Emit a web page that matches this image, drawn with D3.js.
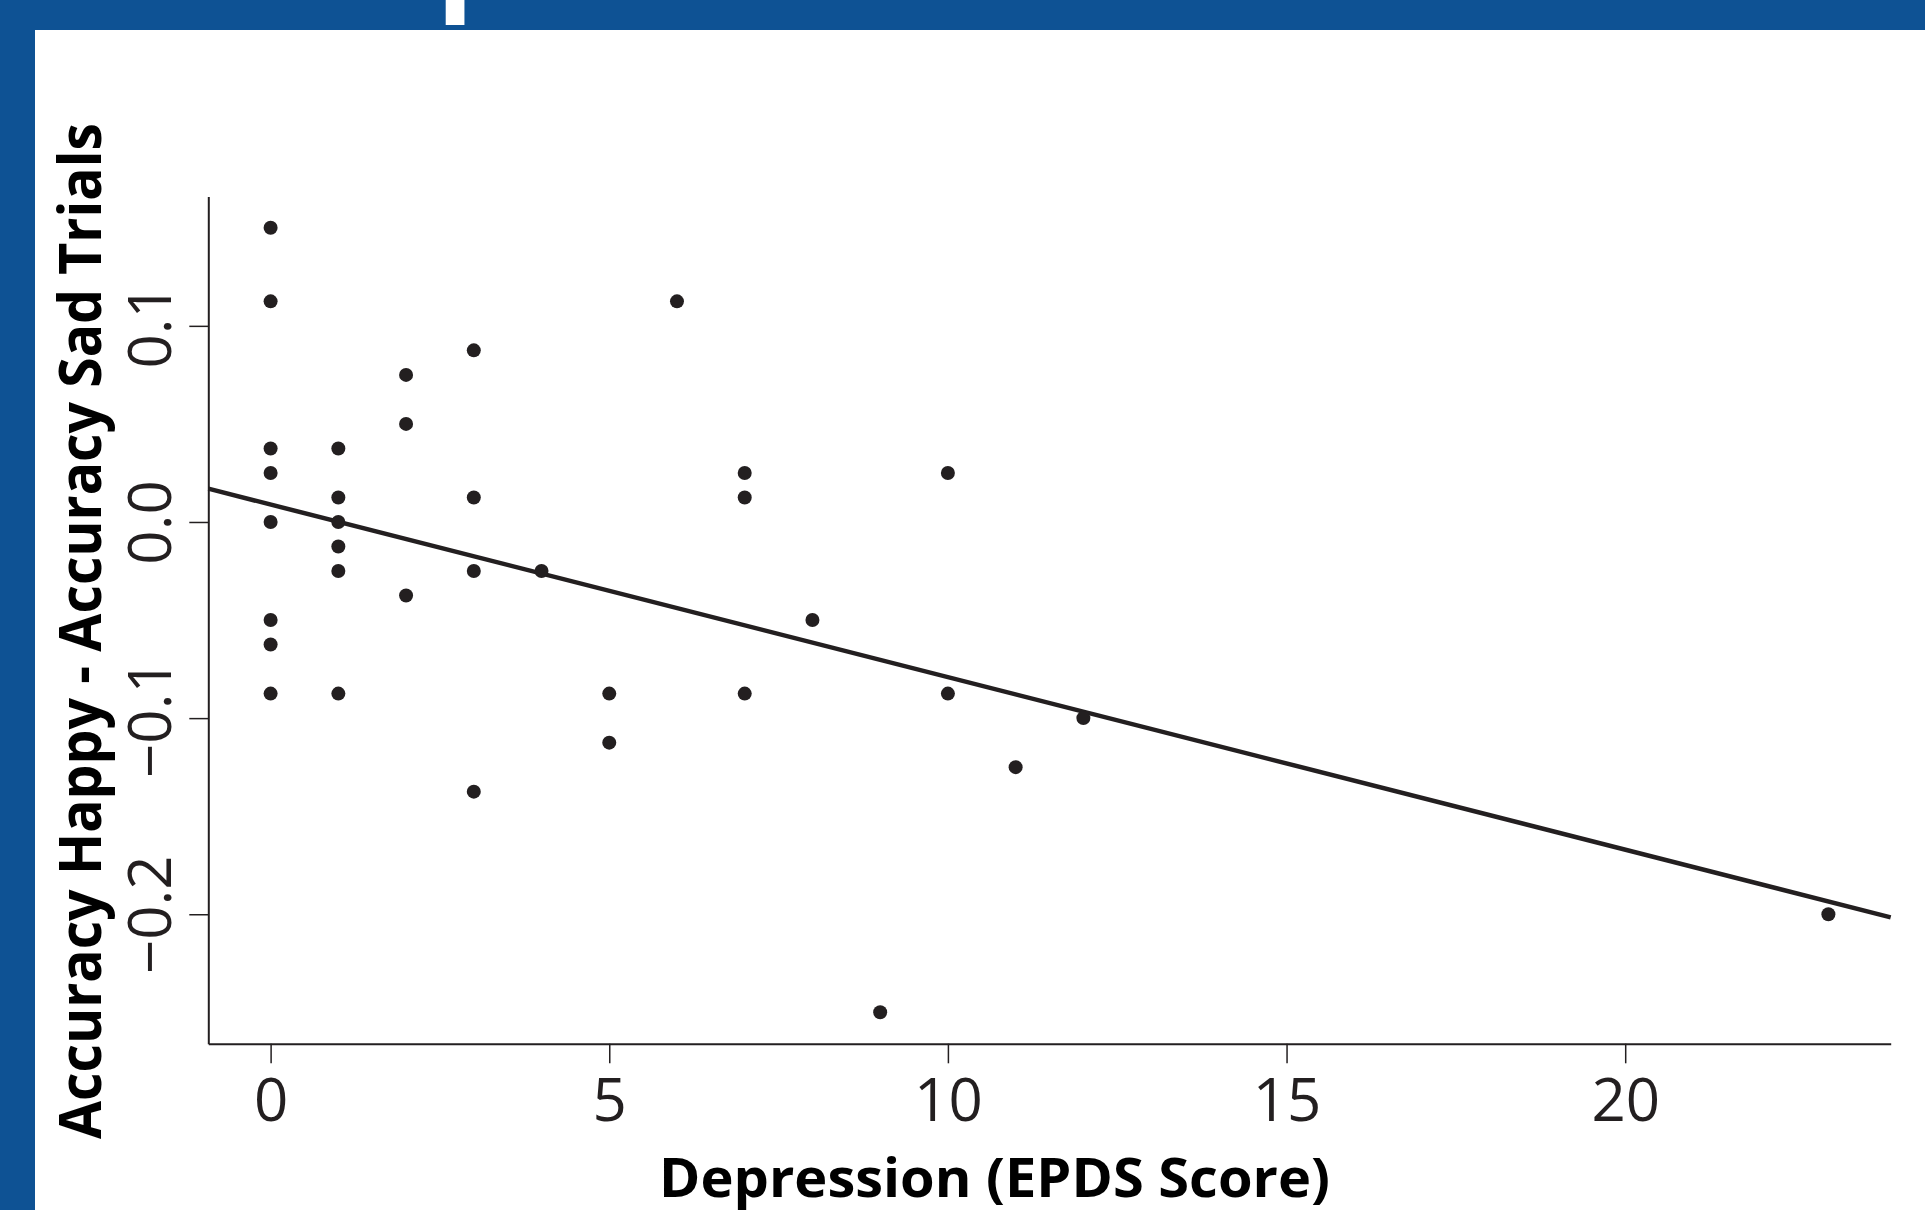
<!DOCTYPE html>
<html>
<head>
<meta charset="utf-8">
<script src="https://cdn.jsdelivr.net/npm/d3@7"></script>
<style>
  html, body { margin: 0; padding: 0; background: #fff; }
  svg { display: block; font-family: "Open Sans", "Liberation Sans", sans-serif; }
</style>
</head>
<body>
<script>
// EPDS score of each participant and accuracy difference (happy - sad)
const epds = [0, 0, 0, 0, 0, 0, 0, 0,
              1, 1, 1, 1, 1, 1,
              2, 2, 2,
              3, 3, 3, 3,
              4, 5, 5, 6, 7, 7, 7, 8, 9, 10, 10, 11, 12, 23];
const accDiff = [0.15, 0.1125, 0.0375, 0.025, 0, -0.05, -0.0625, -0.0875,
                 0.0375, 0.0125, 0, -0.0125, -0.025, -0.0875,
                 0.075, 0.05, -0.0375,
                 0.0875, 0.0125, -0.025, -0.1375,
                 -0.025, -0.0875, -0.1125, 0.1125, 0.025, 0.0125, -0.0875, -0.05, -0.25, 0.025, -0.0875, -0.125, -0.1, -0.2];
// fitted line as drawn in the figure
const fitIntercept = 0.0089;
const fitSlope = -0.0088;
const xTicks = [0, 5, 10, 15, 20];
const yTicks = [-0.2, -0.1, 0.0, 0.1];

const width = 1925, height = 1210;
const ink = "#231f20";
const blue = "#0e5294";

const x = d3.scaleLinear().domain([-0.92, 23.92]).range([208.3, 1890.7]);
const y = d3.scaleLinear().domain([-0.266, 0.166]).range([1043.7, 196.4]);

const svg = d3.select("body").append("svg")
    .attr("width", width)
    .attr("height", height)
    .attr("viewBox", [0, 0, width, height]);

// blue frame of the slide
svg.append("rect").attr("x", 0).attr("y", 0).attr("width", width).attr("height", 30).attr("fill", blue);
svg.append("rect").attr("x", 0).attr("y", 0).attr("width", 35).attr("height", height).attr("fill", blue);
// descender of the cut-off slide title
svg.append("text")
    .attr("x", 436)
    .attr("y", -5)
    .attr("fill", "#fff")
    .attr("font-weight", 700)
    .attr("font-size", 125)
    .text("p");

// x axis
const gx = svg.append("g")
    .attr("transform", `translate(0,${y.range()[0]})`)
    .call(d3.axisBottom(x).tickValues(xTicks).tickFormat(d3.format("d")).tickSize(19.6).tickSizeOuter(0).tickPadding(15));
gx.select(".domain").attr("stroke", ink).attr("stroke-width", 2);
gx.selectAll(".tick line").attr("stroke", ink).attr("stroke-width", 1.5);
gx.selectAll(".tick text")
    .attr("fill", ink)
    .attr("font-size", 60)
    .attr("font-family", "'Open Sans', sans-serif");

// y axis, labels rotated
const gy = svg.append("g")
    .attr("transform", `translate(${x.range()[0]},0)`)
    .call(d3.axisLeft(y).tickValues(yTicks).tickFormat(d3.format(".1f")).tickSize(19).tickSizeOuter(0));
gy.select(".domain").attr("stroke", ink).attr("stroke-width", 2);
gy.selectAll(".tick line").attr("stroke", ink).attr("stroke-width", 1.5);
gy.selectAll(".tick text")
    .attr("x", null)
    .attr("dy", null)
    .attr("transform", "translate(-37.3,0) rotate(-90)")
    .attr("text-anchor", "middle")
    .attr("fill", ink)
    .attr("font-size", 60)
    .attr("font-family", "'Open Sans', sans-serif");

// regression line
const xd = x.domain();
svg.append("line")
    .attr("x1", x(xd[0])).attr("y1", y(fitIntercept + fitSlope * xd[0]))
    .attr("x2", x(xd[1])).attr("y2", y(fitIntercept + fitSlope * xd[1]))
    .attr("stroke", ink)
    .attr("stroke-width", 4.5);

// points
svg.append("g")
    .selectAll("circle")
    .data(d3.range(epds.length))
    .join("circle")
        .attr("cx", i => x(epds[i]))
        .attr("cy", i => y(accDiff[i]))
        .attr("r", 7)
        .attr("fill", ink);

// axis titles
svg.append("text")
    .attr("x", 659)
    .attr("y", 1196.7)
    .attr("textLength", 671)
    .attr("lengthAdjust", "spacingAndGlyphs")
    .attr("fill", "#000")
    .attr("font-weight", 700)
    .attr("font-size", 53)
    .text("Depression (EPDS Score)");

svg.append("text")
    .attr("transform", "translate(100.7,631) rotate(-90)")
    .attr("text-anchor", "middle")
    .attr("textLength", 1016)
    .attr("lengthAdjust", "spacingAndGlyphs")
    .attr("fill", "#000")
    .attr("font-weight", 700)
    .attr("font-size", 59)
    .text("Accuracy Happy - Accuracy Sad Trials");
</script>
</body>
</html>
